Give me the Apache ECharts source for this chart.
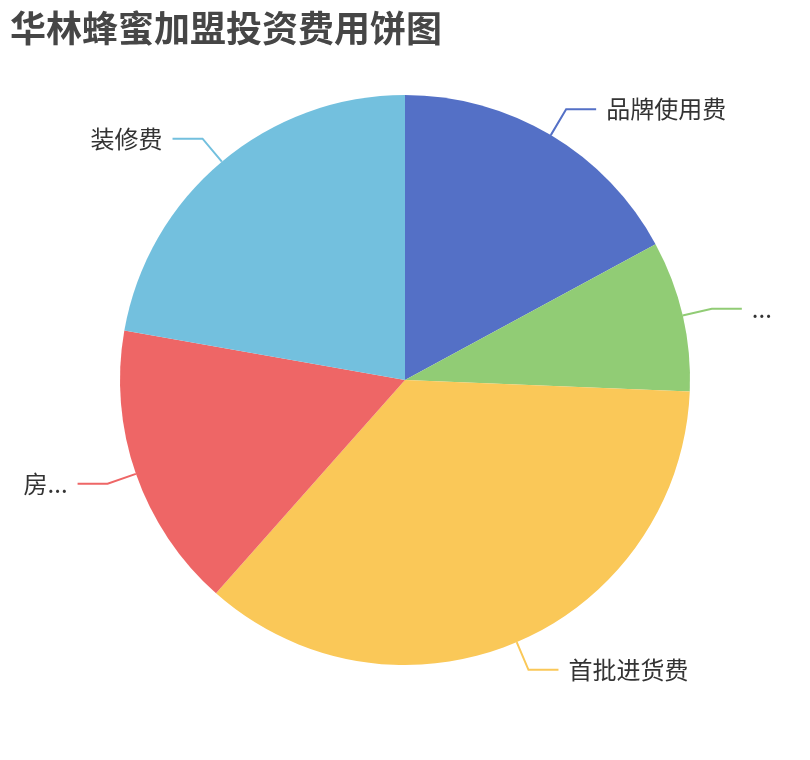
<!DOCTYPE html>
<html>
<head>
<meta charset="utf-8">
<script src="https://cdn.jsdelivr.net/npm/echarts@6/dist/echarts.min.js"></script>
<style>
html,body{margin:0;padding:0;background:#fff;}
#chart{width:810px;height:760px;}
</style>
</head>
<body>
<div id="chart"></div>
<script>
const titleText = '华林蜂蜜加盟投资费用饼图';
const categories = ['品牌使用费', '加盟保证金', '首批进货费', '房租费', '装修费'];
const values = [2, 1, 4.2, 1.9, 2.6];
const colors = ['#5470c6', '#91cc75', '#fac858', '#ee6666', '#73c0de'];

const chart = echarts.init(document.getElementById('chart'));
chart.setOption({
  animation: false,
  color: colors,
  title: {
    text: titleText,
    left: 0,
    top: 0,
    padding: 10,
    textStyle: {
      fontSize: 36,
      fontWeight: 'bold',
      color: '#464646',
      fontFamily: 'Noto Sans CJK SC'
    }
  },
  series: [{
    type: 'pie',
    radius: '75%',
    center: ['50%', '50%'],
    startAngle: 90,
    clockwise: true,
    data: categories.map((n, i) => ({ name: n, value: values[i] })),
    itemStyle: { borderWidth: 0 },
    label: {
      show: true,
      fontSize: 24,
      color: '#333',
      fontFamily: 'Noto Sans CJK SC',
      bleedMargin: 20,
      distanceToLabelLine: 10
    },
    labelLine: {
      show: true,
      length: 30,
      length2: 30,
      lineStyle: { width: 2 }
    }
  }]
});
</script>
</body>
</html>
